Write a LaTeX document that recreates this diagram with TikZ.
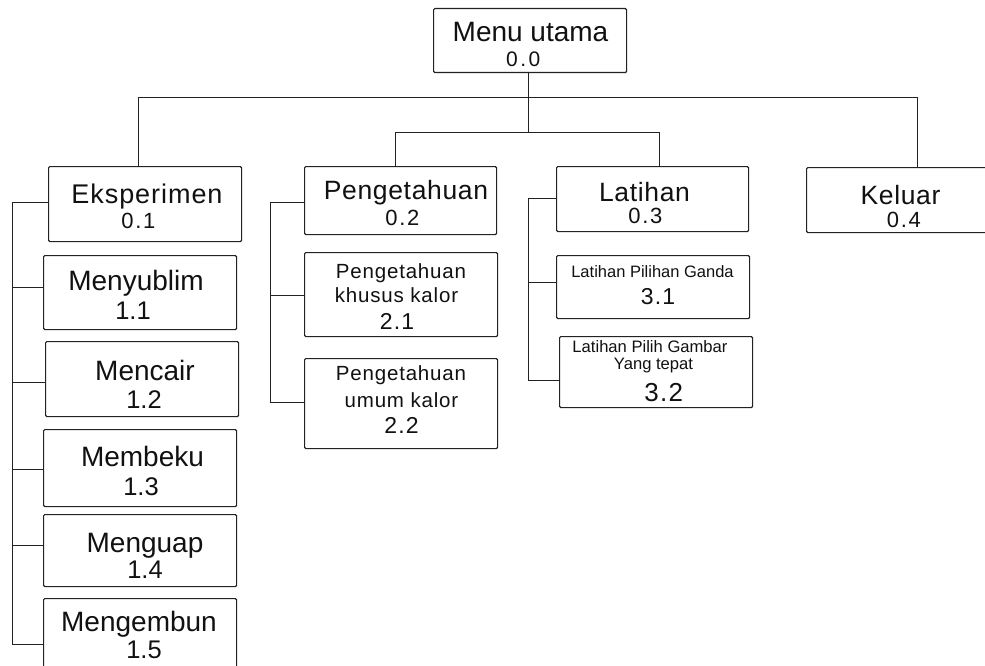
\documentclass[tikz,border=0pt]{standalone}
\usepackage{fontspec}
\setmainfont{Liberation Sans}
\newcommand\fsz[1]{\fontsize{#1}{#1}\selectfont}
\newcommand\lsp[1]{\addfontfeatures{LetterSpace=#1}}
\definecolor{linec}{HTML}{222222}
\definecolor{textc}{HTML}{111111}
\begin{document}
\begin{tikzpicture}[x=1pt,y=-1pt,
  box/.style={draw=linec, line width=1.15pt, rounded corners=1.2pt, inner sep=0pt, anchor=north west},
  conn/.style={draw=linec, line width=1.15pt},
  lbl/.style={anchor=base, inner sep=0pt, text=textc}]
\useasboundingbox (0,0) rectangle (985,666);
\clip (0,0) rectangle (985,666);
\fill[white] (0,0) rectangle (985,666);
% boxes
\node[box, minimum width=193pt, minimum height=64pt] (menu) at (433,8) {};
\node[box, minimum width=193pt, minimum height=75pt] (eks) at (48,166) {};
\node[box, minimum width=192pt, minimum height=68pt] (peng) at (304,166) {};
\node[box, minimum width=192pt, minimum height=65pt] (lat) at (556,166) {};
\node[box, minimum width=190pt, minimum height=65pt] (kel) at (806,167) {};
\node[box, minimum width=193pt, minimum height=74pt] (m11) at (43,255) {};
\node[box, minimum width=193pt, minimum height=75pt] (m12) at (45,341) {};
\node[box, minimum width=193pt, minimum height=77pt] (m13) at (43,429) {};
\node[box, minimum width=193pt, minimum height=72pt] (m14) at (43,514) {};
\node[box, minimum width=193pt, minimum height=80pt] (m15) at (43,598) {};
\node[box, minimum width=193pt, minimum height=84pt] (p21) at (304,252) {};
\node[box, minimum width=193pt, minimum height=90pt] (p22) at (304,358) {};
\node[box, minimum width=193pt, minimum height=63pt] (l31) at (556,255) {};
\node[box, minimum width=193pt, minimum height=71pt] (l32) at (559,336) {};
% texts
\node[lbl, font=\fsz{28}] (tmenu) at (530.5,42) {Menu utama};
\node[lbl, font=\fsz{21}\lsp{12}] (nmenu) at (523.3,67) {0.0};
\node[lbl, font=\fsz{27}\lsp{3.5}] (teks) at (147,203) {Eksperimen};
\node[lbl, font=\fsz{22}\lsp{8}] (neks) at (138.4,228) {0.1};
\node[lbl, font=\fsz{26.5}\lsp{2.5}] (tpeng) at (406,199) {Pengetahuan};
\node[lbl, font=\fsz{22}\lsp{8}] (npeng) at (402.4,225) {0.2};
\node[lbl, font=\fsz{26.5}\lsp{2.5}] (tlat) at (644.5,201) {Latihan};
\node[lbl, font=\fsz{22}\lsp{8}] (nlat) at (645.4,223) {0.3};
\node[lbl, font=\fsz{26.5}\lsp{2.5}] (tkel) at (900.5,204) {Keluar};
\node[lbl, font=\fsz{22}\lsp{8}] (nkel) at (903.9,227) {0.4};
\node[lbl, font=\fsz{28}] (tm11) at (136,290) {Menyublim};
\node[lbl, font=\fsz{25.5}] (nm11) at (133,319) {1.1};
\node[lbl, font=\fsz{28}] (tm12) at (145,380) {Mencair};
\node[lbl, font=\fsz{25.5}] (nm12) at (144,408) {1.2};
\node[lbl, font=\fsz{28}] (tm13) at (142.5,466) {Membeku};
\node[lbl, font=\fsz{25.5}] (nm13) at (141,495) {1.3};
\node[lbl, font=\fsz{28}] (tm14) at (145,552) {Menguap};
\node[lbl, font=\fsz{25.5}] (nm14) at (145,578) {1.4};
\node[lbl, font=\fsz{28}] (tm15) at (139,631) {Mengembun};
\node[lbl, font=\fsz{25.5}] (nm15) at (144,658) {1.5};
\node[lbl, font=\fsz{20.5}\lsp{4}] (tp21a) at (401,278) {Pengetahuan};
\node[lbl, font=\fsz{20.5}\lsp{4}] (tp21b) at (396.5,302) {khusus kalor};
\node[lbl, font=\fsz{23}\lsp{5}] (np21) at (397.1,329) {2.1};
\node[lbl, font=\fsz{20.5}\lsp{4}] (tp22a) at (401,380) {Pengetahuan};
\node[lbl, font=\fsz{20.5}\lsp{4}] (tp22b) at (401.5,407) {umum kalor};
\node[lbl, font=\fsz{23}\lsp{5}] (np22) at (401.6,433) {2.2};
\node[lbl, font=\fsz{16.5}] (tl31) at (652.5,277) {Latihan Pilihan Ganda};
\node[lbl, font=\fsz{23}\lsp{5}] (nl31) at (658.1,304) {3.1};
\node[lbl, font=\fsz{16.6}] (tl32a) at (650,352) {Latihan Pilih Gambar};
\node[lbl, font=\fsz{16.6}] (tl32b) at (653.5,369) {Yang tepat};
\node[lbl, font=\fsz{26}\lsp{5}] (nl32) at (663.7,401) {3.2};
% connector junctions
\coordinate (hub2) at (528.5,132.5);
\coordinate (ja) at (138.5,97.5);
\coordinate (jb) at (917.5,97.5);
\coordinate (jc) at (395.5,132.5);
\coordinate (jd) at (659.5,132.5);
\draw[conn] (hub2 |- menu.south) -- (hub2);
\draw[conn] (ja |- eks.north) -- (ja) -- (jb) -- (jb |- kel.north);
\draw[conn] (jc |- peng.north) -- (jc) -- (jd) -- (jd |- lat.north);
% Eksperimen branch
\coordinate (e0) at (12.5,202.5);
\coordinate (e1) at (12.5,287.5);
\coordinate (e2) at (12.5,382.5);
\coordinate (e3) at (12.5,469.5);
\coordinate (e4) at (12.5,545.5);
\coordinate (e5) at (12.5,644.5);
\draw[conn] (e0 -| eks.west) -- (e0) -- (e5) -- (e5 -| m15.west);
\draw[conn] (e1) -- (e1 -| m11.west);
\draw[conn] (e2) -- (e2 -| m12.west);
\draw[conn] (e3) -- (e3 -| m13.west);
\draw[conn] (e4) -- (e4 -| m14.west);
% Pengetahuan branch
\coordinate (p0) at (270.5,202.5);
\coordinate (p1) at (270.5,295.5);
\coordinate (p2) at (270.5,402.5);
\draw[conn] (p0 -| peng.west) -- (p0) -- (p2) -- (p2 -| p22.west);
\draw[conn] (p1) -- (p1 -| p21.west);
% Latihan branch
\coordinate (q0) at (528.5,198.5);
\coordinate (q1) at (528.5,282.5);
\coordinate (q2) at (528.5,380.5);
\draw[conn] (q0 -| lat.west) -- (q0) -- (q2) -- (q2 -| l32.west);
\draw[conn] (q1) -- (q1 -| l31.west);
\end{tikzpicture}
\end{document}
